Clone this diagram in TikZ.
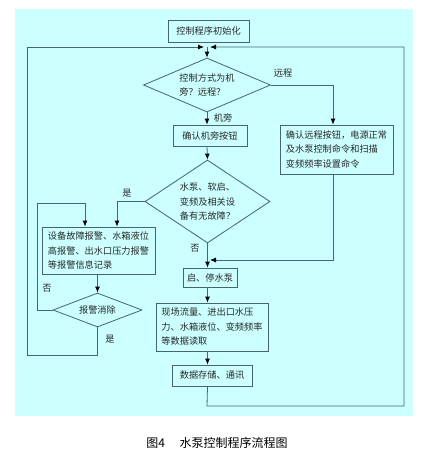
\documentclass[tikz,border=0pt]{standalone}
\usepackage{fontspec}
\setmainfont{Noto Sans CJK SC}
\usetikzlibrary{shapes.geometric,arrows.meta}
\definecolor{bgc}{RGB}{204,255,255}
\definecolor{lnc}{RGB}{72,100,110}
\definecolor{txc}{RGB}{40,40,40}
\begin{document}
\begin{tikzpicture}[x=1pt,y=-1pt,
  every node/.style={font=\fontsize{9.2}{14.5}\selectfont, text=txc},
  box/.style={draw=lnc, line width=0.8pt, rectangle, inner sep=0pt, align=left},
  dia/.style={draw=lnc, line width=0.8pt, diamond, inner sep=0pt, align=left},
  conn/.style={draw=lnc, line width=0.8pt},
  arr/.style={conn, -{Latex[length=6pt,width=5pt,color=black]}},
  lbl/.style={inner sep=0pt},
  captext/.style={font=\fontsize{12}{14}\selectfont, text=black}
]
\useasboundingbox (0,0) rectangle (440,464);
\fill[bgc] (15,9) rectangle (413,416);

% nodes
\node[box, minimum width=81pt, minimum height=22pt] (init) at (208.5,31) {控制程序初始化};
\node[dia, aspect=2.35, minimum width=127pt, minimum height=54pt] (d1) at (207,85) {控制方式为机\\旁？远程？};
\node[box, minimum width=74pt, minimum height=21pt] (local) at (210,135.5) {确认机旁按钮};
\node[box, minimum width=113pt, minimum height=49pt] (remote) at (336.5,149.5) {确认远程按钮，电源正常\\及水泵控制命令和扫描\\变频频率设置命令};
\node[dia, aspect=1.5, minimum width=125pt, minimum height=83pt] (d2) at (207.5,201.5) {水泵、软启、\\变频及相关设\\备有无故障？};
\node[box, minimum width=54pt, minimum height=19pt] (start) at (210,277.5) {启、停水泵};
\node[box, minimum width=112pt, minimum height=48pt] (read) at (212,327) {现场流量、进出口水压\\力、水箱液位、变频频率\\等数据读取};
\node[box, minimum width=80pt, minimum height=21pt] (store) at (212,375.5) {数据存储、通讯};
\node[box, minimum width=113pt, minimum height=47pt] (alarm) at (98.5,250.5) {设备故障报警、水箱液位\\高报警、出水口压力报警\\等报警信息记录};
\node[dia, aspect=2.6, minimum width=89pt, minimum height=34pt] (d3) at (97.5,310) {报警消除};

% junction coordinates
\coordinate (J) at (207,47);
\coordinate (Jl) at (204,47);
\coordinate (Jr) at (210,47);
\coordinate (Mr) at (210,260);

% labels
\node[lbl] (lremote) at (283,73) {远程};
\node[lbl] (llocal) at (223,118) {机旁};
\node[lbl] (lyes1) at (127,193) {是};
\node[lbl] (lno1) at (195,248) {否};
\node[lbl] (lno2) at (47,288) {否};
\node[lbl] (lyes2) at (110,339) {是};

% connectors
\draw[arr] (J) -- (J |- d1.north);
\draw[arr] (d1.east) -- (333,85) -- (333,0 |- remote.north);
\draw[arr] (d1.south) -- (d1.south |- local.north);
\draw[arr] (d1.south |- local.south) -- (d2.north);
\draw[arr] (d2.south) -- (d2.south |- start.north);
\draw[arr] (333,0 |- remote.south) -- (333,260) -- (Mr);
\draw[arr] (d2.south |- start.south) -- (d2.south |- read.north);
\draw[arr] (d2.south |- read.south) -- (d2.south |- store.north);
\draw[arr] (d2.west) -- (117,0 |- d2.west) -- (117,0 |- alarm.north);
\draw[arr] (d3.north |- alarm.south) -- (d3.north);
\draw[arr] (d3.west) -- (37,0 |- d3.west) -- (37,203) -- (85,203) -- (85,0 |- alarm.north);
\draw[arr] (d3.south) -- (97.5,355) -- (27,355) -- (27,47) -- (Jl);
\draw[arr] (d2.south |- store.south) -- (207,406) -- (404,406) -- (404,47) -- (Jr);

% caption
\node[captext] (caption) at (217,443) {图4\hspace{1.2em}水泵控制程序流程图};
\end{tikzpicture}
\end{document}
